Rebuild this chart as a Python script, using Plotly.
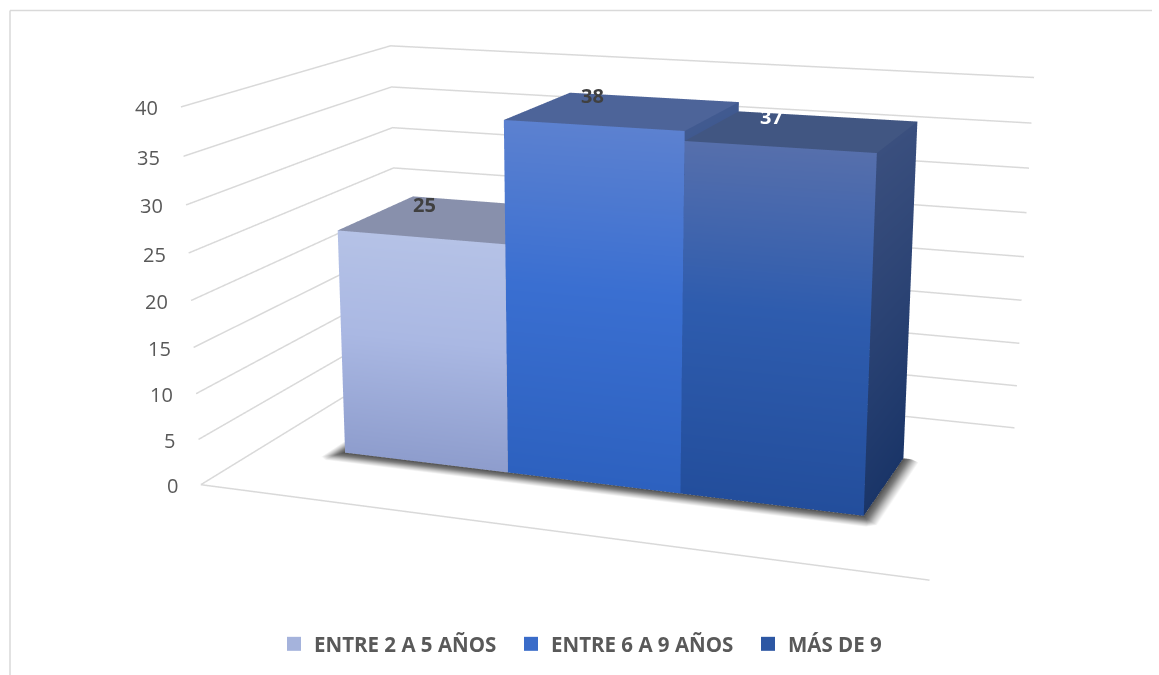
import plotly.graph_objects as go

# ---------- data ----------
categories = ["ENTRE 2 A 5 AÑOS", "ENTRE 6 A 9 AÑOS", "MÁS DE 9"]
values = [25, 38, 37]
z_ticks = [0, 5, 10, 15, 20, 25, 30, 35, 40]
label_colors = ["#404040", "#404040", "#ffffff"]

# ---------- styling ----------
front_stops = [
    [(0.0, "#8e9dcd"), (0.55, "#aab8e3"), (1.0, "#b5c2e6")],
    [(0.0, "#2d61bf"), (0.55, "#3a6fd1"), (1.0, "#5c81d0")],
    [(0.0, "#234e9c"), (0.55, "#2e5cae"), (1.0, "#566fac")],
]
top_colors = ["#8890ac", "#4d6499", "#415682"]
side_stops = [
    [(0.0, "#6c7aa6"), (1.0, "#8a96bb")],
    [(0.0, "#1f4488"), (1.0, "#415a90")],
    [(0.0, "#1a3568"), (1.0, "#3a4f7e")],
]
legend_colors = ["#a5b3dc", "#3a6cc9", "#2d57a3"]
GRID = "#d9d9d9"
TEXT = "#595959"

# Geometry of the chart box (camera solved from the reference perspective)
FIG_W, FIG_H, PAGE_SHIFT = 1159, 1740, 532
BAR_X0, BAR_X1, BAR_Y0, BAR_Y1 = 0.1234, 0.8753, 0.3012, 0.6934
EYE = dict(x=0.928, y=-2.6717, z=0.6969)
CENTER = dict(x=0.2415, y=-0.8277, z=0.1517)
UP = dict(x=-0.0427, y=0.1202, z=1.0)
ASPECT = dict(x=1.0, y=0.6327, z=0.5184)
FLAT = dict(ambient=1, diffuse=0, specular=0, roughness=1, fresnel=0)


def py(window_y):
    return 1 - (window_y + PAGE_SHIFT) / FIG_H


def px(window_x):
    return window_x / FIG_W


def box_mesh(x0, x1, y0, y1, h, stops, top, side):
    xs, ys, zs, cs, i, j, k = [], [], [], [], [], [], []

    def quad(a, b, c, d, ca, cb, cc, cd):
        n = len(xs)
        for p, col in ((a, ca), (b, cb), (c, cc), (d, cd)):
            xs.append(p[0]); ys.append(p[1]); zs.append(p[2]); cs.append(col)
        i.extend([n, n]); j.extend([n + 1, n + 2]); k.extend([n + 2, n + 3])

    for (t0, c0), (t1, c1) in zip(stops, stops[1:]):
        quad((x0, y0, h * t0), (x1, y0, h * t0), (x1, y0, h * t1), (x0, y0, h * t1), c0, c0, c1, c1)
    for (t0, c0), (t1, c1) in zip(side, side[1:]):
        quad((x1, y0, h * t0), (x1, y1, h * t0), (x1, y1, h * t1), (x1, y0, h * t1), c0, c0, c1, c1)
    quad((x0, y0, h), (x1, y0, h), (x1, y1, h), (x0, y1, h), top, top, top, top)
    return go.Mesh3d(x=xs, y=ys, z=zs, i=i, j=j, k=k, vertexcolor=cs, flatshading=True, lighting=FLAT,
                     hoverinfo="skip", showscale=False, showlegend=False)


def shadow_mesh(x0, x1, y0, y1):
    # grows outward from the bar footprint and fades to the page colour
    rings = [
        (0.000, 0.000, 0.000, 0.000, "#505050"),
        (0.008, 0.022, 0.001, 0.004, "#7c7c7c"),
        (0.016, 0.042, 0.005, 0.010, "#c4c4c4"),
        (0.024, 0.062, 0.012, 0.018, "#ffffff"),
    ]
    xs, ys, zs, cs, i, j, k = [], [], [], [], [], [], []
    for d, df, cx, cy, col in rings:
        l, r, f = x0 - d, x1 + d, y0 - df
        outline = ((l + cx, f), (r - cx, f), (r, f + cy), (r, y1 - cy), (r - cx, y1), (l + cx, y1), (l, y1 - cy), (l, f + cy))
        for p in outline:
            xs.append(p[0]); ys.append(p[1]); zs.append(0.0); cs.append(col)
    m = 8
    for r in range(len(rings) - 1):
        for s in range(m):
            a, b = r * m + s, r * m + (s + 1) % m
            c, d = a + m, b + m
            i.extend([a, b]); j.extend([b, d]); k.extend([c, c])
    return go.Mesh3d(x=xs, y=ys, z=zs, i=i, j=j, k=k, vertexcolor=cs, flatshading=True, lighting=FLAT,
                     hoverinfo="skip", showscale=False, showlegend=False)


fig = go.Figure()
fig.add_trace(shadow_mesh(BAR_X0, BAR_X1, BAR_Y0, BAR_Y1))

bar_w = (BAR_X1 - BAR_X0) / len(values)
annotations = []
for n, v in enumerate(values):
    x0 = BAR_X0 + n * bar_w
    fig.add_trace(box_mesh(x0, x0 + bar_w, BAR_Y0, BAR_Y1, v, front_stops[n], top_colors[n], side_stops[n]))
    annotations.append(dict(
        x=x0 + bar_w / 2, y=(BAR_Y0 + BAR_Y1) / 2, z=v, text=str(v), showarrow=False,
        xshift=-32, yshift=15, xanchor="center", yanchor="middle",
        font=dict(family="Open Sans", size=20, color=label_colors[n], weight="bold"),
    ))
    fig.add_trace(go.Scatter3d(
        x=[None], y=[None], z=[None], mode="markers", name=categories[n],
        marker=dict(symbol="square", size=14, color=legend_colors[n]), hoverinfo="skip",
    ))

# gridlines: left wall + back wall at every tick, and the front edge of the floor
grid_x, grid_y, grid_z = [0, 1, None], [0, 0, None], [0, 0, None]
for t in z_ticks:
    grid_x += [0, 0, 1, None]
    grid_y += [0, 1, 1, None]
    grid_z += [t, t, t, None]
fig.add_trace(go.Scatter3d(x=grid_x, y=grid_y, z=grid_z, mode="lines", line=dict(color=GRID, width=3),
                           connectgaps=False, hoverinfo="skip", showlegend=False))

for t in z_ticks:
    annotations.append(dict(
        x=0, y=0, z=t, text=str(t), showarrow=False, xanchor="right", yanchor="middle",
        xshift=-21, yshift=-1, font=dict(family="Open Sans", size=20, color=TEXT),
    ))

hidden = dict(
    showgrid=False, zeroline=False, showline=False, showticklabels=False, ticks="",
    showbackground=False, showspikes=False, title="", autorange=False,
)
fig.update_layout(
    width=FIG_W, height=FIG_H, margin=dict(l=0, r=0, t=0, b=0, pad=0),
    paper_bgcolor="#ffffff", hovermode=False, dragmode=False,
    scene=dict(
        domain=dict(x=[0, 1], y=[0, 1]),
        xaxis=dict(hidden, range=[0, 1]),
        yaxis=dict(hidden, range=[0, 1]),
        zaxis=dict(hidden, range=[0, 40]),
        aspectmode="manual", aspectratio=ASPECT,
        camera=dict(eye=EYE, center=CENTER, up=UP, projection=dict(type="perspective")),
        annotations=annotations,
    ),
    legend=dict(
        orientation="h", x=px(274), xanchor="left", y=py(644), yanchor="middle",
        entrywidth=192, entrywidthmode="pixels",
        font=dict(family="Open Sans", size=20.5, color=TEXT, weight="bold"),
        itemclick=False, itemdoubleclick=False, bgcolor="rgba(0,0,0,0)",
    ),
    shapes=[
        dict(type="line", xref="paper", yref="paper", x0=px(10), x1=px(1152), y0=py(10.5), y1=py(10.5),
             line=dict(color=GRID, width=1.5)),
        dict(type="line", xref="paper", yref="paper", x0=px(10), x1=px(10), y0=py(10.5), y1=py(675),
             line=dict(color=GRID, width=1.5)),
    ],
)

shift_page = f"""
var gd = document.getElementById('{{plot_id}}');
gd.style.position = 'absolute'; gd.style.left = '0px'; gd.style.top = '-{PAGE_SHIFT}px';
document.documentElement.style.height = '100%'; document.documentElement.style.overflow = 'hidden';
document.body.style.height = '100%'; document.body.style.overflow = 'hidden'; document.body.style.margin = '0';
"""
fig.write_html("out.html", post_script=shift_page, default_width=f"{FIG_W}px", default_height=f"{FIG_H}px",
               config=dict(displayModeBar=False))
